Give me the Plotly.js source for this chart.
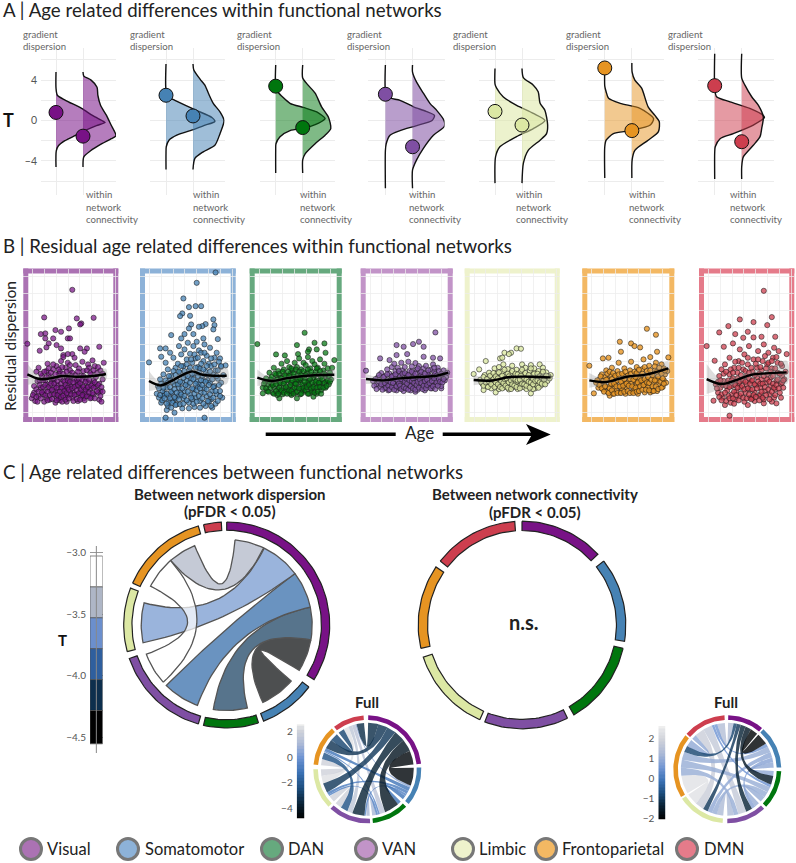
<!DOCTYPE html>
<html><head><meta charset="utf-8">
<script src="https://cdn.plot.ly/plotly-3.0.1.min.js"></script>
<style>html,body{margin:0;padding:0;background:#fff}</style></head>
<body><div id="g" style="width:796px;height:863px"></div>
<script>
const FONT='Lato, "Open Sans", sans-serif';
const networks=['Visual','Somatomotor','DAN','VAN','Limbic','Frontoparietal','DMN'];
const solid=['#781286','#4682b4','#00760e','#7f4fa3','#dce8a4','#e69422','#cd3e4e'];
const fillA=['rgba(120,18,134,.55)','rgba(70,130,180,.52)','rgba(0,118,14,.5)','rgba(127,79,163,.55)','rgba(220,232,164,.55)','rgba(230,148,34,.5)','rgba(205,62,78,.52)'];
const frame=['#ab72b3','#8db2d8','#66a97e','#c294c8','#eef2cc','#f3b863','#e57b8a'];
const dotB=['rgba(120,18,134,.72)','rgba(70,130,180,.75)','rgba(0,118,14,.72)','rgba(127,79,163,.75)','rgba(220,232,164,.8)','rgba(230,148,34,.8)','rgba(205,62,78,.75)'];

// Panel A: half densities (T, width)
const gradT=[
[4.8,3.2,2.5,2,1.2,.5,0,-.2,-.5,-1,-1.5,-2,-2.5,-3,-4.6],
[5.6,3,2.3,2,1,.3,-.1,-.5,-1,-1.45,-1.95,-2.6,-3.2,-4.85],
[5.5,3.2,2.85,1.7,1.3,.85,.2,-.1,-.7,-1,-1.6,-2.3,-3,-5.2],
[5.5,3,2.3,2,1.35,.9,.5,0,-.5,-1,-1.45,-2.3,-3,-6.7],
[5.15,3.6,3.2,2.35,1.5,.7,0,-.8,-1.6,-2.6,-3.6,-6.2],
[5.2,3.4,2.85,2.2,1.7,1.2,.2,-.45,-1,-1.3,-1.95,-2.6,-5.7],
[6.6,3.2,2.35,1.85,1.2,.5,.3,-.45,-1.3,-1.8,-2.6,-3.2,-5.8]];
const gradW=[
[0,0,.05,.35,.95,1.35,1.7,1.82,1.5,1.07,.7,.33,.09,.01,0],
[0,0,.1,.33,1.13,1.7,1.81,1.4,.9,.4,.11,.01,0,0],
[0,0,.07,.53,1.02,1.52,1.83,1.7,1.15,.53,.16,.01,0,0],
[0,0,.1,.54,1.04,1.5,1.81,1.72,1.16,.54,.17,.03,0,0],
[0,0,.06,.3,.8,1.42,1.85,1.42,.8,.18,.02,0],
[0,0,.05,.14,.57,1.3,1.8,1.68,.94,.32,.05,0,0],
[0,0,.07,.57,1.3,1.8,1.84,1.43,.69,.2,.02,0,0]];
const connT=[
[4.8,4.4,4,3.3,2.5,1.5,.5,-.5,-1,-1.5,-1.8,-2.3,-3,-3.6,-4.6],
[5.6,5,4.1,3.5,2.7,1.7,.85,0,-1.3,-2.45,-3.1,-3.75,-4.85],
[5.5,4.2,3.5,2.7,1.35,.35,-.8,-1.45,-2.3,-3.3,-3.9,-5.2],
[5.5,4.8,3.8,2.7,1.7,1,0,-.6,-1.45,-2.75,-3.9,-4.9,-6.7],
[5.15,4.25,3.5,2.85,1.7,1,-.45,-1.3,-1.95,-2.95,-4.25,-6.2],
[5.7,4.8,4,3.2,1.35,.5,-.1,-1.1,-1.95,-2.95,-3.9,-5.7],
[6.6,4.2,3.5,2.35,1.5,.35,-.8,-1.6,-2.45,-3.6,-4.6,-5.8]];
const connW=[
[0,.03,.3,.52,.55,.65,.87,1.05,1.15,1.22,1.05,.7,.28,.03,0],
[0,.03,.26,.44,.57,.75,1,1.15,1,.81,.38,.07,0],
[0,0,.2,.46,.7,.95,1.04,.83,.46,.09,0,0],
[0,0,.15,.4,.64,.89,1.16,1.17,.77,.4,.15,0,0],
[0,.05,.42,.6,.67,.85,.95,.91,.67,.23,.05,0],
[0,.01,.11,.36,.6,.85,1.01,.98,.6,.11,.01,0],
[0,0,.12,.37,.62,.8,.74,.68,.43,.06,0,0]];
const dotGrad=[.8,2.5,3.4,2.6,.9,5.2,3.45];
const dotConn=[-1.55,.45,-.7,-2.6,-.45,-1,-2.1];

// Panel B: scatter points [age, residual]
const ptsVisual=[[58,264],[33,181],[62,178],[77,180],[66,163],[65,160],[18,102],[55,148],[43,143],[48,138],[34,133],[30,131],[34,118],[41,118],[54,118],[56,118],[37,103],[35,91],[44,98],[48,88],[29,81],[82,93],[65,88],[71,88],[69,78],[58,71],[54,71],[50,68],
[22,-62],[25,-70],[24,-45],[28,-55],[30,-30],[27,-10],[33,-72],[35,-60],[33,-40],[36,-20],[31,5],[28,30],[35,20],[38,-66],[40,-50],[38,-35],[40,-12],[37,8],[41,25],[36,42],[43,-75],[44,-58],[43,-40],[45,-22],[42,-5],[46,12],[44,35],[48,50],[47,-68],[49,-48],[48,-30],[50,-8],[47,18],[52,30],[50,62],[53,-72],[54,-52],[52,-38],[55,-18],[53,3],[56,22],[54,45],[58,-60],[59,-44],[57,-26],[60,-6],[58,15],[61,38],[60,60],[63,-70],[62,-50],[65,-32],[63,-14],[66,6],[64,28],[67,48],[68,-62],[69,-42],[67,-22],[70,-2],[68,20],[72,40],[72,-55],[74,-35],[72,-15],[75,10],[73,30],[76,52],[77,-50],[79,-28],[77,-8],[80,15],[78,35],[82,-66],[84,-72],[83,-40],[82,-18],[85,-5],[83,22],[86,45],[29,-22],[32,-50],[39,-2],[46,-62],[51,-28],[56,-40],[61,-24],[66,-56],[71,-30],[76,-20],[81,-45],[45,-42],[55,-2],[65,-46],[75,-60],[34,-8],[42,-28],[52,-58],[62,-8],[70,-48],[26,18],
[23,-52],[24,-25],[26,-35],[26,-58],[27,-72],[28,-42],[29,-8],[30,-62],[30,12],[31,-44],[32,-28],[32,-8],[33,18],[34,-52],[34,-22],[35,2],[36,-68],[36,-42],[37,-28],[37,28],[38,-52],[39,-18],[39,15],[40,-64],[40,-36],[41,-2],[41,40],[42,-50],[42,-18],[43,10],[44,-68],[44,-30],[45,-52],[45,-10],[46,25],[47,-42],[47,0],[48,-58],[48,-18],[49,-72],[49,-30],[49,32],[50,-54],[50,12],[51,-40],[51,-12],[52,-66],[52,-22],[53,-46],[53,18],[54,-30],[54,-8],[55,-62],[55,-36],[56,-12],[56,38],[57,-50],[57,5],[58,-32],[59,-70],[59,-14],[60,-52],[60,-28],[61,8],[62,-64],[62,-38],[63,-22],[63,18],[64,-46],[64,-4],[65,-66],[65,-16],[66,-36],[67,-52],[67,-6],[68,-28],[68,4],[69,-68],[70,-36],[70,-12],[71,-56],[71,22],[72,-28],[73,-44],[73,-6],[74,-62],[74,14],[75,-24],[76,-46],[77,-30],[77,22],[78,-62],[78,-14],[79,2],[80,-40],[81,-22],[81,32],[83,-55],[84,-28],[85,-42],[85,12]];
const ptsSomato=[[78,316],[61,285],[49,238],[60,215],[65,215],[54,212],[48,193],[46,185],[55,186],[76,175],[69,161],[66,155],[63,153],[56,160],[77,158],[76,145],[54,148],[50,131],[38,128],[58,131],[80,116],[67,118],[47,118],[18,46],[28,88],[33,88],[29,63],[32,-47],[33,-120],[68,-120],[41,-105],[34,-97],[87,37],[83,33],[82,58],
[27,-60],[29,-75],[30,-40],[32,-20],[31,10],[35,-85],[36,-55],[34,-30],[37,-5],[35,25],[33,45],[38,-90],[40,-70],[39,-45],[41,-20],[38,5],[42,30],[40,60],[37,75],[43,-80],[44,-55],[45,-30],[43,-8],[46,15],[44,42],[47,70],[45,95],[48,-92],[49,-62],[50,-40],[48,-15],[51,8],[49,35],[52,55],[50,85],[53,105],[54,-75],[55,-50],[53,-25],[56,-2],[54,22],[57,45],[55,72],[58,95],[59,-88],[60,-60],[58,-35],[61,-12],[59,12],[62,32],[60,58],[63,82],[61,108],[64,-70],[65,-45],[63,-20],[66,5],[64,28],[67,50],[65,75],[68,100],[69,-85],[70,-55],[68,-30],[71,-8],[69,18],[72,42],[70,66],[73,90],[74,-65],[75,-40],[73,-15],[76,10],[74,35],[77,60],[78,-78],[79,-50],[77,-25],[80,-3],[78,22],[81,48],[79,75],[82,-40],[84,-60],[83,-15],[85,8],[26,-25],[28,-5],[46,-45],[52,-10],[57,-65],[62,-28],[67,-8],[72,-72],[42,-62],[36,-72],[75,-90],[31,-55],
[25,-48],[27,-32],[28,-52],[29,-18],[30,-68],[31,-30],[32,-62],[33,-8],[34,-78],[34,-48],[35,-15],[36,5],[37,-62],[37,-28],[38,-42],[39,-75],[39,-12],[40,20],[41,-58],[41,-35],[42,-82],[42,8],[43,-45],[44,-20],[45,-65],[45,18],[46,-80],[46,-12],[47,-50],[47,35],[48,-32],[49,-78],[49,0],[50,-55],[50,20],[51,-22],[52,-68],[52,40],[53,-42],[53,5],[54,-92],[55,-15],[55,30],[56,-60],[56,55],[57,-32],[57,12],[58,-78],[58,-5],[59,-48],[59,70],[60,-18],[60,30],[61,-72],[61,-38],[62,5],[62,60],[63,-55],[63,15],[64,-90],[64,-32],[65,-8],[65,42],[66,-62],[66,-22],[67,-78],[67,25],[68,-45],[68,75],[69,-12],[70,-35],[70,35],[71,-70],[71,8],[72,-22],[73,-50],[73,18],[74,-85],[74,58],[75,-5],[76,-60],[76,-28],[77,40],[78,-40],[79,5],[80,-70],[80,22],[81,-22],[82,-55],[83,35]];
const ptsDAN=[[61,135],[70,105],[79,103],[18,101],[54,98],[65,85],[72,85],[64,78],[35,70],[55,71],[43,67],[80,75],[88,53],[38,-62],[69,-57],[23,-47],[54,-62],
[23,-30],[25,-12],[27,-40],[28,-22],[30,-5],[29,15],[32,-45],[33,-28],[34,-10],[35,8],[33,30],[36,-52],[37,-35],[38,-18],[39,0],[37,20],[40,42],[41,-50],[42,-30],[43,-12],[44,5],[42,25],[45,50],[46,-42],[47,-25],[46,-5],[48,12],[47,32],[49,-52],[50,-35],[49,-15],[51,3],[50,22],[52,45],[53,-45],[54,-28],[53,-8],[55,10],[54,32],[56,58],[57,-50],[58,-32],[57,-14],[59,5],[58,25],[60,45],[61,-42],[62,-22],[61,-2],[63,15],[62,38],[64,62],[65,-48],[66,-30],[65,-10],[67,8],[66,28],[68,50],[69,-40],[70,-20],[69,0],[71,18],[70,40],[72,-48],[73,-28],[72,-8],[74,10],[73,30],[75,55],[76,-38],[77,-18],[76,2],[78,22],[79,42],[80,-30],[81,-10],[80,8],[82,28],[83,-20],[85,-5],[84,15],[86,30],[31,-15],[44,-38],[52,-18],[59,-38],[67,-42],[75,-15],[39,-42],[48,-48],[56,-8],[64,-15],
[24,-18],[26,-32],[26,-2],[28,-42],[29,-12],[30,-30],[31,2],[32,-22],[33,-48],[34,12],[35,-40],[35,-20],[36,-5],[37,-48],[38,-30],[38,12],[39,-15],[40,-38],[40,-2],[41,18],[42,-45],[42,-18],[43,8],[44,-28],[45,-48],[45,-8],[46,18],[47,-38],[47,5],[48,-22],[49,-40],[49,28],[50,-8],[51,-48],[51,12],[52,-30],[53,-18],[53,25],[54,-42],[55,-5],[56,-32],[56,18],[57,-2],[58,-48],[58,8],[59,-20],[60,-30],[60,20],[61,-12],[62,-38],[62,8],[63,-28],[64,-48],[64,25],[65,-22],[66,-5],[67,-32],[67,18],[68,-15],[69,-28],[70,-45],[70,8],[71,-12],[72,-30],[72,28],[73,-42],[74,-15],[75,-28],[75,20],[76,-48],[77,-5],[78,-30],[79,-15],[79,12],[81,-25],[82,-8],[83,5],[84,-12]];
const ptsVAN=[[77,136],[63,108],[58,101],[67,93],[44,98],[50,93],[30,58],[18,21],[81,58],[67,63],[75,60],[53,71],[44,68],[38,53],[82,-32],[60,-42],
[24,-10],[27,-20],[28,0],[30,-28],[32,-8],[31,14],[34,-32],[35,-15],[34,5],[36,25],[37,-38],[38,-22],[39,-5],[38,12],[40,32],[41,-30],[42,-12],[41,6],[43,20],[42,42],[44,-38],[45,-20],[44,-3],[46,12],[45,30],[47,-32],[48,-14],[47,4],[49,22],[48,45],[50,-40],[51,-22],[50,-6],[52,10],[51,32],[53,-30],[54,-12],[53,5],[55,20],[54,48],[56,-38],[57,-20],[56,-3],[58,14],[57,34],[59,-28],[60,-10],[59,6],[61,24],[60,44],[62,-36],[63,-18],[62,0],[64,15],[63,35],[65,-28],[66,-8],[65,8],[67,28],[68,-38],[69,-18],[68,-2],[70,14],[69,36],[71,-26],[72,-6],[71,8],[73,24],[74,-32],[75,-14],[74,2],[76,18],[75,40],[77,-22],[78,-4],[77,12],[79,30],[80,-15],[81,3],[80,20],[82,-25],[83,8],[85,-8],[84,22],[86,2],[87,15],[33,-22],[43,-24],[49,-6],[55,-24],[61,-2],[67,-14],[73,-20],[46,-30],
[25,-24],[26,-4],[27,-34],[29,-12],[29,8],[31,-20],[32,-36],[33,2],[34,-16],[35,-30],[36,-8],[36,10],[37,-24],[38,-36],[39,-14],[40,-28],[40,4],[41,-16],[42,-36],[43,-4],[43,10],[44,-26],[45,-8],[46,-18],[46,20],[47,-24],[48,-34],[48,-4],[49,12],[50,-28],[51,-12],[51,14],[52,-32],[52,-2],[53,-18],[54,-36],[54,8],[55,-8],[56,-26],[57,-10],[57,18],[58,-32],[58,-2],[59,-16],[60,-36],[60,12],[61,-22],[62,-12],[62,28],[63,-30],[64,-6],[65,-16],[65,18],[66,-34],[66,2],[67,-24],[68,-10],[68,12],[69,-32],[70,-6],[70,-22],[71,22],[72,-16],[73,-32],[73,4],[74,-10],[75,-26],[76,-2],[76,30],[77,-34],[78,-14],[78,6],[79,-24],[80,-4],[81,-12],[82,12],[83,-14],[84,-4]];
const ptsLimbic=[[57,88],[61,87],[46,75],[52,75],[50,71],[42,58],[44,60],[29,50],[23,25],[18,11],[70,-47],[38,-44],[27,-37],[88,8],
[24,-6],[26,-18],[28,8],[30,-25],[31,-5],[32,15],[34,-32],[35,-14],[35,4],[37,28],[38,-25],[39,-8],[39,12],[41,32],[41,-34],[42,-16],[43,2],[44,18],[45,40],[46,-28],[47,-10],[47,8],[49,26],[50,-35],[51,-18],[51,-2],[52,14],[53,36],[54,-28],[55,-10],[55,6],[57,24],[58,-34],[59,-16],[59,2],[61,18],[62,40],[63,-28],[63,-8],[64,10],[65,30],[66,-34],[67,-16],[67,2],[69,20],[70,38],[71,-26],[71,-8],[72,10],[73,28],[74,-32],[75,-14],[75,4],[77,20],[78,40],[79,-24],[79,-6],[80,12],[81,30],[82,-18],[83,0],[84,16],[85,-10],[86,4],[87,-2],[36,-20],[44,-24],[52,-26],[60,-24],[68,-24],[76,-24],[48,-16],[56,-18],[33,-12],[72,-34],
[25,-14],[27,-24],[27,2],[29,-14],[30,-4],[31,-28],[32,-12],[33,6],[34,-20],[36,-4],[36,14],[37,-28],[38,-14],[38,4],[40,-20],[40,-2],[41,16],[42,-28],[43,-10],[44,-32],[44,6],[45,-16],[46,-4],[46,24],[47,-24],[48,-2],[49,-30],[49,12],[50,-14],[50,4],[52,-8],[52,-34],[53,-20],[53,20],[54,-2],[55,-24],[56,-6],[56,12],[57,-28],[58,-8],[58,10],[60,-6],[60,-32],[61,6],[62,-18],[62,24],[64,-20],[64,-2],[65,14],[66,-24],[66,-6],[68,-12],[68,8],[69,-30],[70,-14],[70,28],[72,-20],[72,-4],[73,12],[74,-10],[76,-8],[76,12],[77,-30],[78,-14],[78,4],[80,-18],[80,0],[81,18],[82,-6],[83,-20],[84,6]];
const ptsFP=[[69,147],[77,129],[45,108],[55,103],[58,95],[63,91],[46,78],[78,78],[88,61],[18,36],[30,58],[35,60],[22,-47],[36,-54],[72,-44],
[24,-15],[26,-30],[27,-5],[29,10],[30,-35],[31,-18],[32,2],[33,22],[34,-42],[35,-28],[36,-10],[37,8],[38,30],[39,-48],[40,-32],[41,-15],[42,2],[43,20],[44,45],[45,-44],[46,-28],[47,-10],[48,8],[49,28],[50,-48],[51,-30],[52,-14],[53,4],[54,22],[55,48],[56,-42],[57,-26],[58,-8],[59,12],[60,32],[61,-48],[62,-30],[63,-12],[64,6],[65,26],[66,55],[67,-44],[68,-24],[69,-6],[70,14],[71,36],[72,62],[73,-34],[74,-16],[75,2],[76,22],[77,45],[78,-40],[79,-20],[80,-2],[81,18],[82,40],[83,-28],[84,-8],[85,10],[86,-15],[84,28],[87,20],[28,-20],[38,-20],[47,-36],[55,-18],[62,-2],[70,-28],[78,-8],[42,-40],[50,-20],[58,-36],[66,-14],[74,-40],[34,-5],[60,-20],
[25,-8],[27,-22],[28,4],[29,-32],[30,-10],[31,-42],[32,-26],[33,-6],[34,12],[35,-46],[36,-32],[36,18],[37,-18],[38,-38],[38,-4],[39,14],[40,-48],[40,-18],[41,6],[42,-26],[43,-46],[43,-8],[44,10],[45,-26],[46,-46],[46,-12],[47,12],[48,-24],[49,-42],[49,-4],[50,18],[51,-18],[52,-40],[52,6],[53,-24],[54,-46],[54,-4],[55,12],[56,-26],[57,-46],[57,-6],[58,18],[59,-30],[59,2],[60,-42],[60,14],[61,-14],[62,-40],[62,24],[63,-26],[64,-8],[65,-36],[65,12],[66,-22],[67,-4],[67,32],[68,-36],[69,-14],[69,20],[70,2],[71,-38],[71,-16],[72,22],[73,-6],[74,-26],[74,8],[75,-40],[76,-8],[76,34],[77,-26],[78,18],[79,-34],[79,4],[80,30],[81,-12],[82,-30],[82,12],[83,-2],[84,-18],[85,22]];
const ptsDMN=[[68,261],[75,182],[47,175],[59,167],[37,155],[71,158],[29,136],[54,138],[43,131],[50,120],[59,121],[66,123],[78,123],[18,95],[33,93],[41,103],[88,71],[25,51],[38,-114],[79,-77],[24,-69],[34,-82],[54,-82],[68,-77],
[26,-20],[28,-45],[29,5],[30,-30],[31,25],[32,-60],[33,-10],[34,40],[35,-70],[36,-38],[36,-15],[38,10],[38,60],[39,-75],[40,-50],[40,-25],[41,-2],[42,30],[43,-65],[44,-40],[44,-12],[45,15],[46,50],[47,85],[47,-55],[48,-30],[49,-5],[50,25],[51,70],[51,-72],[52,-45],[53,-20],[53,5],[54,40],[55,95],[56,-60],[56,-35],[57,-10],[58,18],[59,55],[60,-70],[60,-45],[61,-22],[62,2],[62,30],[63,80],[64,-55],[65,-30],[66,-5],[66,22],[67,50],[68,100],[68,-65],[69,-40],[70,-15],[71,10],[71,40],[72,75],[73,-50],[74,-25],[74,0],[75,28],[76,60],[77,90],[77,-60],[78,-35],[79,-10],[80,15],[80,45],[81,80],[82,-45],[83,-18],[84,5],[84,35],[85,-30],[86,-5],[87,18],[31,-50],[37,-55],[46,-18],[55,-2],[65,-50],[75,-72],[42,-78],[58,-62],
[27,-32],[28,-12],[29,-58],[30,-8],[31,-68],[32,-22],[33,12],[34,-45],[35,-25],[35,18],[37,-8],[38,-62],[38,-28],[39,25],[40,-8],[41,-62],[41,15],[42,-42],[43,-22],[43,48],[44,-52],[45,-30],[45,-2],[46,-68],[46,30],[47,-12],[48,-48],[48,8],[49,-25],[49,45],[50,-60],[50,-8],[51,-35],[52,-12],[52,20],[53,-62],[54,-32],[54,60],[55,-50],[55,15],[56,-18],[57,-65],[57,30],[58,-35],[58,-8],[59,-52],[60,-20],[60,8],[61,-58],[61,42],[62,-32],[63,-12],[63,55],[64,-68],[64,12],[65,-18],[65,32],[66,-42],[67,-60],[67,-18],[68,5],[69,-28],[69,65],[70,-52],[70,28],[71,-5],[72,-35],[72,45],[73,-65],[73,-12],[74,18],[75,-42],[75,50],[76,-18],[76,5],[77,-30],[78,-52],[78,28],[79,-22],[79,62],[80,-5],[81,-32],[82,12],[83,-60],[83,42],[84,-15],[85,-8]];
const allPts=[ptsVisual,ptsSomato,ptsDAN,ptsVAN,ptsLimbic,ptsFP,ptsDMN];
const fitAge=[[18,29,38,49,62,77,88],[18,28,37,48,57,67,88],[18,31,44,60,75,88],[18,33,47,64,78,88],[18,33,51,69,88],[18,33,51,69,88],[18,31,44,56,70,88]];
const fitY=[[10,-4,-2,5,3,5,11],[-10,-23,-12,8,19,8,6],[0,-10,-2,5,8,9],[-4,-8,-2,2,6,15],[-7,-9,2,3,1],[-8,-13,3,10,28],[-4,-19,-7,8,13,16]];
const fitCI=[[32,9,7,7,7,9,16],[30,10,10,10,10,10,25],[25,8,6,6,7,18],[15,6,5,5,6,15],[16,5,5,5,10],[22,7,6,7,20],[45,14,10,10,10,35]];

// Panel C: chord data, angles in degrees clockwise from the top
const sectorsDisp=[[0,122],[127,159],[162,193],[196,251],[255,291],[294,344],[347,357]];
const linksDisp=[[100,122,131,155],[78,100,166,189],[53,78,200,225],[26,53,258,285],[5.6,25.6,319,338],[228,250,297,319]];
const linksDispColor=['#4d4f50','#57748c','#6a93c0','#9ab4dc','#c5cad6','rgba(255,255,255,.72)'];
const sectorsConn=[[0,47],[52,99],[103,150],[154,201],[204,252],[257,304],[308,356]];
const sectorsFull1=[[1,84],[88,130],[134,174],[177,223],[226,270],[275,319],[322,356]];
const pairsFull1=[[0,1,-4.5],[0,2,-4],[0,3,-3.6],[0,4,-3],[0,5,-3.1],[0,6,-3.3],[1,2,-1],[1,3,-.6],[1,4,-.8],[1,5,-1],[1,6,.5],[2,3,1],[2,4,-.6],[2,5,-.5],[2,6,1.5],[3,4,2],[3,5,-2.2],[3,6,1.6],[4,5,2],[4,6,2.3],[5,6,-2.6]];
const sectorsFull2=[[1,40],[42,88],[92,134],[137,180],[185,237],[239,309],[311,357]];
const pairsFull2=[[0,1,-1.9],[0,2,-1.5],[0,3,-1.3],[0,4,-1],[0,5,-.8],[0,6,1.4],[1,2,.9],[1,3,.8],[1,4,.9],[1,5,1],[1,6,.6],[2,3,1],[2,4,1],[2,5,1],[2,6,.5],[3,4,1.3],[3,5,1],[3,6,1.7],[4,5,2.3],[4,6,1.8],[5,6,.9]];
const stepEdges=[-3.03,-3.28,-3.53,-3.78,-4.03,-4.28,-4.55];
const stepColors=['#ffffff','#aeb6c6','#6b8fcd','#2f5f9e','#0d2f4d','#000000'];
const stopsFull1=[[-4.78,'#000000'],[-3.6,'#0a2438'],[-2.4,'#1d4e7e'],[-1.2,'#3b72b5'],[0,'#7095d3'],[1,'#aab8d6'],[2,'#cfd2da'],[2.6,'#eeeeee']];
const stopsFull2=[[-2.02,'#000000'],[-1.3,'#0a2438'],[-.7,'#1d4e7e'],[-.1,'#3b72b5'],[.5,'#7095d3'],[1.2,'#aab8d6'],[1.9,'#cfd2da'],[2.6,'#eeeeee']];
const levelsFull1=[-4.78,-4.5,-4.25,-4,-3.75,-3.5,-3.25,-3,-2.75,-2.5,-2.25,-2,-1.75,-1.5,-1.25,-1,-.75,-.5,-.25,0,.25,.5,.75,1,1.25,1.5,1.75,2,2.25,2.6];
const levelsFull2=[-2.02,-1.85,-1.7,-1.55,-1.4,-1.25,-1.1,-.95,-.8,-.65,-.5,-.35,-.2,-.05,.1,.25,.4,.55,.7,.85,1,1.15,1.3,1.45,1.6,1.75,1.9,2.05,2.2,2.35,2.6];
const legendCircleX=[31,128,272,366,463,546,687];
const legendTextX=[47,145,288,382,479,562,704];

// ---------- layout helpers
const W=796,H=863;
const dx=(a,b)=>[a/W,b/W], dy=(t,b)=>[1-b/H,1-t/H];
const layout={width:W,height:H,margin:{l:0,r:0,t:0,b:0},paper_bgcolor:'#fff',plot_bgcolor:'rgba(0,0,0,0)',showlegend:false,font:{family:FONT},annotations:[],shapes:[]};
const data=[];let nAx=0;
function axes(xd,yd,xo,yo){nAx++;const s=nAx===1?'':nAx;
 layout['xaxis'+s]=Object.assign({domain:xd,anchor:'y'+s,showticklabels:false,zeroline:false,showline:false,ticks:'',fixedrange:true,showgrid:false},xo);
 layout['yaxis'+s]=Object.assign({domain:yd,anchor:'x'+s,showticklabels:false,zeroline:false,showline:false,ticks:'',fixedrange:true,showgrid:false},yo);
 return {x:'x'+s,y:'y'+s};}
function txt(x,y,t,size,o){layout.annotations.push(Object.assign({xref:'paper',yref:'paper',x:x/W,y:1-y/H,text:t,showarrow:false,xanchor:'left',yanchor:'middle',borderpad:0,borderwidth:0,font:{family:FONT,size:size,color:'#222'}},o||{}));}
const GRID='#ececec';
const smallText={family:FONT,size:9.6,color:'#666'};
const TITLE=18.7;

// ---------- Panel A
const aCols=[[56,83,41,116],[166,193,150,224.5],[275.7,302.7,260,335],[385.3,412.7,368,444.5],[495,522,479,555],[604.7,632,588,664],[714.7,741.7,698,774]];
const gradLabelX=[23,130,237,346.5,453,566,667.5];
const connLabelX=[86,193,299.7,409,516,628.7,730];
aCols.forEach((c,i)=>{
 const [x1,x2,l,r]=c;
 const ax=axes(dx(l,r),dy(48,195),{range:[1-(x1-l)/27,2+(r-x2)/27],showgrid:true,gridcolor:GRID,tickvals:[1,2]},
  {range:[(120.5-195)/10.1,(120.5-48)/10.1],showgrid:true,gridcolor:GRID,tickvals:[-6,-4,-2,0,2,4,6],ticktext:['','−4','','0','','4',''],
   showticklabels:i===0,tickfont:{family:FONT,size:10.5,color:'#555'},ticklabelstandoff:3});
 data.push({type:'scatter',mode:'lines',xaxis:ax.x,yaxis:ax.y,x:gradW[i].map(v=>1+v),y:gradT[i],fill:'toself',fillcolor:fillA[i],line:{color:'#111',width:1.4,shape:'spline',smoothing:.7},hoverinfo:'skip'});
 data.push({type:'scatter',mode:'lines',xaxis:ax.x,yaxis:ax.y,x:connW[i].map(v=>2+v),y:connT[i],fill:'toself',fillcolor:fillA[i],line:{color:'#111',width:1.4,shape:'spline',smoothing:.7},hoverinfo:'skip'});
 data.push({type:'scatter',mode:'markers',xaxis:ax.x,yaxis:ax.y,x:[1,2],y:[dotGrad[i],dotConn[i]],marker:{size:14,color:solid[i],line:{color:'#111',width:1}},hoverinfo:'skip'});
 txt(gradLabelX[i],34,'gradient',9.6,{font:smallText});
 txt(gradLabelX[i],46.5,'dispersion',9.6,{font:smallText});
 ['within','network','connectivity'].forEach((t,k)=>txt(connLabelX[i],194.5+k*12.6,t,9.6,{font:smallText}));
});
txt(3,10,'A | Age related differences within functional networks',TITLE);
txt(3,120,'<b>T</b>',18,{font:{family:FONT,size:18,color:'#111'}});

// ---------- Panel B
const bFrames=[[23.3,118.3,82,318],[140,235.7,447,680],[249.7,341.7,772,1003],[360.7,452.7,1098,1345],[464.7,559.7,1421,1652],[582.3,674.3,1768,2005],[699,794.3,2120,2360]];
bFrames.forEach((f,i)=>{
 const [L,R,zl,zr]=f; const zL=L*3, zR=R*3; const s=(zr-zl)/70;
 const lo=18-(zl-zL)/s, hi=88+(zR-zr)/s;
 const ax=axes(dx(L,R),dy(268.5,422),{range:[lo,hi],showgrid:true,gridcolor:'rgba(236,236,236,.75)',tick0:lo+28/s,dtick:35.5/s},
  {range:[-133,328],showgrid:true,gridcolor:'rgba(236,236,236,.75)',tick0:-2,dtick:51});
 const bw=5, fx=bw/(R-L), fy=bw/(422-268.5);
 [[0,1,0,fy],[0,1,1-fy,1],[0,fx,0,1],[1-fx,1,0,1]].forEach(b=>layout.shapes.push({type:'rect',xref:ax.x+' domain',yref:ax.y+' domain',x0:b[0],x1:b[1],y0:b[2],y1:b[3],layer:'below',fillcolor:frame[i],line:{width:0}}));
 const up=fitY[i].map((v,k)=>v+fitCI[i][k]),dn=fitY[i].map((v,k)=>v-fitCI[i][k]);
 data.push({type:'scatter',mode:'markers',xaxis:ax.x,yaxis:ax.y,x:allPts[i].map(p=>p[0]),y:allPts[i].map(p=>p[1]),cliponaxis:false,marker:{size:5.2,color:dotB[i],line:{color:'rgba(25,25,25,.8)',width:.7}},hoverinfo:'skip'});
 data.push({type:'scatter',mode:'lines',xaxis:ax.x,yaxis:ax.y,x:fitAge[i].concat(fitAge[i].slice().reverse()),y:up.concat(dn.reverse()),fill:'toself',fillcolor:'rgba(150,150,150,.32)',line:{width:0,shape:'spline'},hoverinfo:'skip'});
 data.push({type:'scatter',mode:'lines',xaxis:ax.x,yaxis:ax.y,x:fitAge[i],y:fitY[i],line:{color:'#000',width:2.4,shape:'spline',smoothing:1},hoverinfo:'skip'});
});
txt(3,246,'B | Residual age related differences within functional networks',TITLE);
txt(10,346,'Residual dispersion',15.5,{textangle:-90,xanchor:'center'});
txt(419,433,'Age',17,{xanchor:'center'});
const P=(x,y)=>(x/W).toFixed(5)+' '+(1-y/H).toFixed(5);
layout.shapes.push({type:'line',xref:'paper',yref:'paper',x0:265.7/W,x1:395.7/W,y0:1-434.3/H,y1:1-434.3/H,line:{color:'#000',width:3.4}});
layout.shapes.push({type:'line',xref:'paper',yref:'paper',x0:442.7/W,x1:532/W,y0:1-434.3/H,y1:1-434.3/H,line:{color:'#000',width:3.4}});
layout.shapes.push({type:'path',xref:'paper',yref:'paper',path:'M '+P(526,424)+' L '+P(550.7,434.5)+' L '+P(526,445)+' L '+P(532,434.5)+' Z',fillcolor:'#000',line:{width:0}});

// ---------- Panel C
const rad=d=>d*Math.PI/180;
const polar=(r,d)=>[r*Math.sin(rad(d)),r*Math.cos(rad(d))];
function arc(r,a,b){const n=Math.max(3,Math.ceil(Math.abs(b-a)/2)),o=[];for(let i=0;i<=n;i++)o.push(polar(r,a+(b-a)*i/n));return o;}
function bez(r,a,b){const p=polar(r,a),q=polar(r,b),o=[];for(let i=1;i<30;i++){const t=i/30,u=(1-t)*(1-t),v=t*t;o.push([u*p[0]+v*q[0],u*p[1]+v*q[1]]);}return o;}
function ribbon(r,a1,a2,b1,b2){const pts=[].concat(arc(r,a1,a2),bez(r,a2,b1),arc(r,b1,b2),bez(r,b2,a1));pts.push(pts[0]);return pts;}
function poly(ax,pts,fill,lc,lw){data.push({type:'scatter',mode:'lines',xaxis:ax.x,yaxis:ax.y,x:pts.map(p=>p[0]),y:pts.map(p=>p[1]),fill:'toself',fillcolor:fill,line:{color:lc||fill,width:lw===undefined?0:lw},hoverinfo:'skip'});}
function chordAxes(cx,cy,Rpx){const m=Rpx+6,u=m/Rpx;return axes(dx(cx-m,cx+m),dy(cy-m,cy+m),{range:[-u,u]},{range:[-u,u]});}
function ring(ax,sec,inner,lc,lw){sec.forEach((s,i)=>{const p=arc(1,s[0],s[1]).concat(arc(inner,s[1],s[0]));p.push(p[0]);poly(ax,p,solid[i],lc,lw);});}
function hex2rgb(h){return [1,3,5].map(k=>parseInt(h.substr(k,2),16));}
function colorAt(stops,t){for(let i=1;i<stops.length;i++){if(t<=stops[i][0]){const f=Math.max(0,(t-stops[i-1][0])/(stops[i][0]-stops[i-1][0]));const a=hex2rgb(stops[i-1][1]),b=hex2rgb(stops[i][1]);return a.map((v,k)=>Math.round(v+(b[k]-v)*f));}}return hex2rgb(stops[stops.length-1][1]);}
function fullChord(ax,sec,pairs,stops){
 const slots=sec.map(()=>null);
 sec.forEach((s,i)=>{
  const ls=pairs.filter(p=>p[0]===i||p[1]===i).map(p=>({p,o:p[0]===i?p[1]:p[0]})).sort((a,b)=>((i-a.o+7)%7)-((i-b.o+7)%7));
  const tot=ls.reduce((q,l)=>q+Math.abs(l.p[2]),0);let at=s[0];const m={};
  ls.forEach(l=>{const w=Math.abs(l.p[2])/tot*(s[1]-s[0]);m[l.o]=[at,at+w];at+=w;});slots[i]=m;});
 pairs.slice().sort((a,b)=>b[2]-a[2]).forEach(p=>{
  const A=slots[p[0]][p[1]],B=slots[p[1]][p[0]],c=colorAt(stops,p[2]);
  poly(ax,ribbon(.86,A[0],A[1],B[0],B[1]),'rgba('+c.join(',')+',.82)');});
 ring(ax,sec,.915);
}
const c1=chordAxes(226.7,625,103);
linksDisp.forEach((l,i)=>poly(c1,ribbon(.83,l[0],l[1],l[2],l[3]),linksDispColor[i],'#555',1.3));
ring(c1,sectorsDisp,.92,'#222',1.2);
const c2=chordAxes(522,625,103.8);
ring(c2,sectorsConn,.91,'#222',1.2);
fullChord(chordAxes(367.3,769.3,54),sectorsFull1,pairsFull1,stopsFull1);
fullChord(chordAxes(727.3,769.3,54),sectorsFull2,pairsFull2,stopsFull2);

// stepped colorbar
const cb=axes(dx(90,102.7),dy(546,753),{range:[-.5,.5]},{range:[-4.624,-2.949],showticklabels:true,tickvals:[-3,-3.5,-4,-4.5],ticktext:['−3.0','−3.5','−4.0','−4.5'],tickfont:{family:FONT,size:10,color:'#555'},showgrid:true,gridcolor:'#999',ticklabelstandoff:3});
data.push({type:'scatter',mode:'lines',xaxis:cb.x,yaxis:cb.y,x:[0,0],y:[-2.949,-4.624],line:{color:'#888',width:1},hoverinfo:'skip'});
data.push({type:'bar',xaxis:cb.x,yaxis:cb.y,x:stepColors.map(()=>0),base:stepEdges.slice(0,6),y:stepColors.map((c,i)=>stepEdges[i+1]-stepEdges[i]),width:1,marker:{color:stepColors,line:{color:'#555',width:.7}},hoverinfo:'skip'});
layout.barmode='overlay';
txt(62,640,'<b>T</b>',15,{xanchor:'center',font:{family:FONT,size:15,color:'#111'}});

// gradient colorbars
function gradBar(xl,xr,yt,yb,levels,stops,ticks,labels,rg){
 const ax=axes(dx(xl,xr),dy(yt,yb),{range:[-.5,.5]},{range:rg,showticklabels:true,tickvals:ticks,ticktext:labels,tickfont:{family:FONT,size:10,color:'#555'},ticklabelstandoff:3});
 const lo=stops[0][0],hi=stops[stops.length-1][0];
 data.push({type:'heatmap',xaxis:ax.x,yaxis:ax.y,x:[0],y:levels,z:levels.map(v=>[v]),zmin:lo,zmax:hi,showscale:false,colorscale:stops.map(s=>[(s[0]-lo)/(hi-lo),s[1]]),hoverinfo:'skip'});
}
gradBar(296.7,304.3,724.3,818.3,levelsFull1,stopsFull1,[2,0,-2,-4],['2','0','−2','−4'],[-4.78,2.58]);
gradBar(658.3,665.7,726,819.3,levelsFull2,stopsFull2,[2,1,0,-1,-2],['2','1','0','−1','−2'],[-2.02,2.6]);

txt(3,472,'C | Age related differences between functional networks',TITLE);
const bold=(x,y,t,s)=>txt(x,y,'<b>'+t+'</b>',s,{xanchor:'center',font:{family:FONT,size:s,color:'#222'}});
bold(230,494,'Between network dispersion',15);
bold(230,511,'(pFDR &lt; 0.05)',15);
bold(535,494,'Between network connectivity',15);
bold(535,512,'(pFDR &lt; 0.05)',15);
bold(524,622,'n.s.',20);
bold(366.7,701.7,'Full',15);
bold(725.7,701.7,'Full',15);

// network legend
const lg=axes([0,1],dy(830,863),{range:[0,W]},{range:[863,830]});
data.push({type:'scatter',mode:'markers',xaxis:lg.x,yaxis:lg.y,x:legendCircleX,y:legendCircleX.map(()=>849),marker:{size:21,color:frame,line:{color:'#777',width:3}},hoverinfo:'skip'});
networks.forEach((n,i)=>txt(legendTextX[i],849,n,16.5));

Plotly.newPlot('g',data,layout,{displayModeBar:false,staticPlot:true});
</script></body></html>
